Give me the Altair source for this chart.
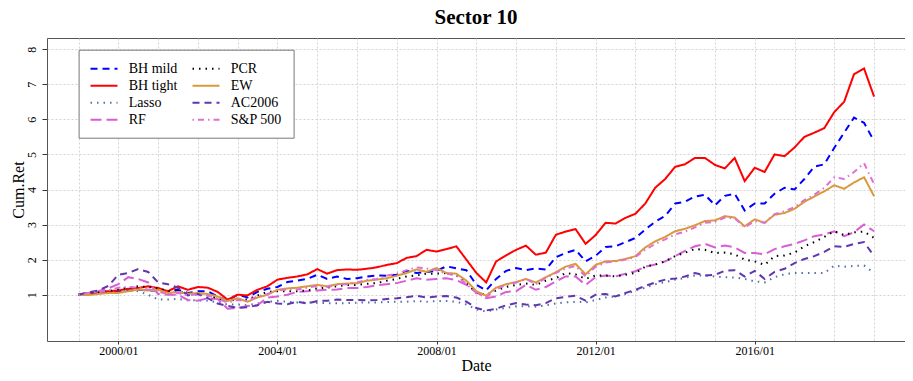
import altair as alt
import pandas as pd

# Quarterly observation dates (1999/01 ... 2019/01)
dates = [d.strftime("%Y-%m-%d") for d in pd.date_range("1999-01-01", "2019-01-01", freq="QS")]

bh_tight = [1.00, 1.05, 1.08, 1.10, 1.12, 1.17, 1.19, 1.24, 1.19, 1.10, 1.24, 1.14, 1.22, 1.20, 1.08, 0.86,
            1.00, 0.98, 1.14, 1.24, 1.43, 1.48, 1.52, 1.58, 1.73, 1.60, 1.70, 1.72, 1.71, 1.74, 1.78, 1.85,
            1.90, 2.05, 2.10, 2.28, 2.23, 2.30, 2.38, 2.00, 1.62, 1.35, 1.95, 2.12, 2.28, 2.40, 2.14, 2.20,
            2.71, 2.80, 2.87, 2.45, 2.70, 3.05, 3.03, 3.19, 3.31, 3.60, 4.05, 4.30, 4.65, 4.72, 4.90, 4.90,
            4.70, 4.60, 4.90, 4.24, 4.62, 4.50, 5.00, 4.95, 5.20, 5.50, 5.62, 5.75, 6.21, 6.50, 7.29, 7.45,
            6.65]
bh_mild = [1.00, 1.04, 1.06, 1.08, 1.10, 1.12, 1.14, 1.12, 1.12, 1.10, 1.14, 1.05, 1.10, 1.10, 0.95, 0.83,
           1.00, 0.92, 1.08, 1.17, 1.22, 1.36, 1.40, 1.45, 1.57, 1.45, 1.52, 1.45, 1.47, 1.52, 1.55, 1.54,
           1.57, 1.68, 1.62, 1.65, 1.68, 1.81, 1.75, 1.70, 1.28, 1.12, 1.45, 1.68, 1.76, 1.70, 1.75, 1.72,
           2.07, 2.19, 2.28, 1.95, 2.11, 2.36, 2.38, 2.50, 2.62, 2.86, 3.08, 3.25, 3.60, 3.65, 3.80, 3.85,
           3.55, 3.82, 3.88, 3.40, 3.60, 3.60, 3.88, 4.05, 4.00, 4.30, 4.65, 4.72, 5.19, 5.62, 6.05, 5.90,
           5.38]
ew = [1.00, 0.99, 1.02, 1.05, 1.05, 1.10, 1.15, 1.12, 1.14, 1.05, 1.08, 1.03, 1.05, 1.02, 0.95, 0.82,
      0.90, 0.80, 0.92, 1.00, 1.14, 1.18, 1.20, 1.24, 1.28, 1.24, 1.30, 1.32, 1.33, 1.40, 1.43, 1.47,
      1.54, 1.62, 1.72, 1.65, 1.76, 1.62, 1.60, 1.40, 1.10, 0.97, 1.20, 1.30, 1.36, 1.45, 1.35, 1.50,
      1.64, 1.80, 1.88, 1.58, 1.85, 1.95, 1.96, 2.02, 2.10, 2.35, 2.52, 2.65, 2.81, 2.88, 2.98, 3.10,
      3.12, 3.24, 3.20, 2.95, 3.15, 3.05, 3.28, 3.33, 3.45, 3.65, 3.80, 3.95, 4.12, 4.02, 4.20, 4.35,
      3.81]
sp500 = [1.00, 1.05, 1.08, 1.12, 1.20, 1.22, 1.20, 1.15, 1.08, 1.02, 1.05, 0.98, 1.02, 0.98, 0.88, 0.78,
         0.85, 0.82, 0.95, 1.02, 1.12, 1.15, 1.15, 1.20, 1.25, 1.22, 1.28, 1.30, 1.35, 1.42, 1.45, 1.55,
         1.60, 1.70, 1.78, 1.75, 1.70, 1.60, 1.55, 1.30, 1.05, 0.92, 1.15, 1.28, 1.35, 1.45, 1.30, 1.48,
         1.62, 1.75, 1.82, 1.52, 1.80, 1.92, 1.95, 2.00, 2.08, 2.28, 2.45, 2.58, 2.72, 2.80, 2.92, 3.05,
         3.08, 3.20, 3.18, 2.92, 3.10, 3.05, 3.30, 3.38, 3.50, 3.70, 3.85, 4.05, 4.35, 4.30, 4.50, 4.75,
         4.15]
pcr = [1.00, 1.03, 1.06, 1.10, 1.15, 1.20, 1.24, 1.22, 1.18, 1.10, 1.08, 1.05, 1.00, 0.98, 0.90, 0.83,
       0.86, 0.86, 0.98, 1.08, 1.10, 1.10, 1.10, 1.12, 1.18, 1.20, 1.24, 1.28, 1.28, 1.31, 1.33, 1.40,
       1.45, 1.52, 1.55, 1.60, 1.60, 1.62, 1.55, 1.35, 1.05, 1.00, 1.12, 1.22, 1.28, 1.32, 1.28, 1.40,
       1.47, 1.62, 1.58, 1.45, 1.55, 1.55, 1.52, 1.57, 1.62, 1.80, 1.86, 1.95, 2.10, 2.20, 2.30, 2.28,
       2.19, 2.20, 2.15, 2.00, 1.95, 1.85, 2.10, 2.12, 2.20, 2.38, 2.50, 2.65, 2.81, 2.70, 2.78, 2.80,
       2.62]
rf = [1.00, 1.04, 1.10, 1.18, 1.30, 1.50, 1.45, 1.35, 1.02, 1.00, 1.00, 0.85, 0.83, 0.90, 0.88, 0.60,
      0.62, 0.68, 0.70, 0.92, 0.95, 1.00, 1.08, 1.10, 1.12, 1.14, 1.15, 1.19, 1.19, 1.22, 1.27, 1.30,
      1.33, 1.40, 1.47, 1.43, 1.45, 1.47, 1.42, 1.28, 1.07, 0.90, 0.95, 1.08, 1.10, 1.28, 1.14, 1.22,
      1.38, 1.52, 1.52, 1.28, 1.50, 1.55, 1.52, 1.60, 1.67, 1.80, 1.86, 1.95, 2.10, 2.25, 2.38, 2.45,
      2.35, 2.40, 2.35, 2.19, 2.19, 2.15, 2.30, 2.38, 2.45, 2.55, 2.67, 2.72, 2.81, 2.67, 2.78, 3.00,
      2.81]
ac2006 = [1.00, 1.07, 1.12, 1.25, 1.57, 1.62, 1.73, 1.65, 1.35, 1.30, 1.20, 0.98, 1.02, 0.90, 0.75, 0.68,
          0.62, 0.64, 0.70, 0.80, 0.75, 0.73, 0.80, 0.75, 0.82, 0.83, 0.86, 0.85, 0.85, 0.84, 0.85, 0.88,
          0.90, 0.93, 0.97, 0.92, 0.95, 0.96, 0.92, 0.80, 0.62, 0.55, 0.60, 0.70, 0.76, 0.72, 0.70, 0.76,
          0.90, 0.94, 0.97, 0.83, 1.00, 1.02, 0.95, 1.05, 1.14, 1.25, 1.35, 1.43, 1.46, 1.52, 1.62, 1.55,
          1.57, 1.68, 1.70, 1.52, 1.68, 1.45, 1.65, 1.74, 1.90, 2.02, 2.10, 2.22, 2.38, 2.36, 2.45, 2.50,
          2.10]
lasso = [1.00, 1.04, 1.06, 1.10, 1.12, 1.15, 1.10, 1.00, 0.86, 0.86, 0.88, 0.84, 0.84, 0.83, 0.78, 0.72,
         0.72, 0.70, 0.75, 0.80, 0.82, 0.80, 0.78, 0.78, 0.77, 0.76, 0.76, 0.76, 0.77, 0.78, 0.78, 0.79,
         0.80, 0.80, 0.82, 0.80, 0.82, 0.82, 0.80, 0.72, 0.58, 0.52, 0.58, 0.62, 0.67, 0.67, 0.66, 0.70,
         0.75, 0.78, 0.80, 0.78, 0.85, 0.92, 0.95, 1.02, 1.12, 1.20, 1.30, 1.36, 1.43, 1.48, 1.55, 1.55,
         1.52, 1.50, 1.49, 1.45, 1.38, 1.35, 1.50, 1.58, 1.62, 1.62, 1.62, 1.62, 1.83, 1.80, 1.82, 1.83,
         1.62]

series = {
    "BH mild": bh_mild, "BH tight": bh_tight, "Lasso": lasso, "RF": rf,
    "PCR": pcr, "EW": ew, "AC2006": ac2006, "S&P 500": sp500,
}
legend_order = ["BH mild", "BH tight", "Lasso", "RF", "PCR", "EW", "AC2006", "S&P 500"]
colors = {"BH mild": "#0000FF", "BH tight": "#FF0000", "Lasso": "#4F72AA", "RF": "#D65FD6",
          "PCR": "#000000", "EW": "#D99A3D", "AC2006": "#6236AF", "S&P 500": "#E070D0"}
dashes = {"BH mild": [7, 5], "BH tight": [1, 0], "Lasso": [1.5, 5], "RF": [11, 5],
          "PCR": [1.5, 5], "EW": [1, 0], "AC2006": [7, 5], "S&P 500": [1.5, 4, 6, 4]}

rows = []
for name, vals in series.items():
    for d, v in zip(dates, vals):
        rows.append({"Date": d, "CumRet": v, "Method": name})
df = pd.DataFrame(rows)

font = "Liberation Serif"
year_vals = [alt.DateTime(year=y, month=1, date=1, utc=True) for y in range(1999, 2020)]

legend = alt.Legend(title=None, orient="none", legendX=31.6, legendY=11.7,
                    columns=2, symbolType="M-2,0H2", symbolSize=182,
                    symbolStrokeWidth=2, symbolOffset=6.4, symbolFillColor="transparent",
                    labelFont=font, labelFontSize=14,
                    labelOffset=16.75, columnPadding=10, rowPadding=2,
                    padding=11, strokeColor="#777777", fillColor="white",
                    labelColor="black", labelLimit=200)

chart = alt.Chart(df).mark_line(strokeWidth=2).encode(
    x=alt.X("Date:T",
            scale=alt.Scale(type="utc",
                            domain=[alt.DateTime(year=1998, month=3, date=17, utc=True),
                                    alt.DateTime(year=2019, month=10, date=12, utc=True)]),
            axis=alt.Axis(values=year_vals, title="Date",
                          labelExpr="utcyear(datum.value) % 4 == 0 ? utcFormat(datum.value, '%Y/%m') : ''",
                          tickOpacity={"condition": {"test": "utcyear(datum.value) % 4 == 0", "value": 1}, "value": 0},
                          tickSize=3, labelPadding=1, labelAngle=0,
                          labelFont=font, labelFontSize=12, titleFont=font,
                          titleX=429, titleY=29, titleBaseline="alphabetic", titleAnchor="middle")),
    y=alt.Y("CumRet:Q",
            scale=alt.Scale(domain=[-0.32, 8.32], nice=False, zero=False),
            axis=alt.Axis(values=[1, 2, 3, 4, 5, 6, 7, 8], title="Cum.Ret",
                          labelAngle=270, labelAlign="center", labelBaseline="bottom",
                          tickSize=5, labelPadding=4,
                          labelFont=font, labelFontSize=12, titleFont=font,
                          titleAngle=270, titleX=-29, titleY=151.5,
                          titleAlign="center", titleBaseline="middle")),
    color=alt.Color("Method:N",
                    scale=alt.Scale(domain=legend_order, range=[colors[k] for k in legend_order]),
                    legend=legend),
    strokeDash=alt.StrokeDash("Method:N",
                              scale=alt.Scale(domain=legend_order, range=[dashes[k] for k in legend_order]),
                              legend=legend),
    order=alt.Order("Date:T"),
).properties(
    width=858, height=303,
    title=alt.TitleParams("Sector 10", font=font, fontSize=21, fontWeight="bold",
                          anchor="middle", offset=10, color="black"),
    autosize=alt.AutoSizeParams(type="none"),
    padding={"left": 39, "top": 30, "right": 0, "bottom": 31},
    background="white",
).configure_view(
    stroke="#555555", strokeWidth=1
).configure_axis(
    labelFont=font, titleFont=font, labelFontSize=12, titleFontSize=16,
    titleFontWeight="normal", labelColor="black", titleColor="black",
    gridColor="#D3D3D3", gridDash=[2, 2], gridWidth=1,
    domain=False, tickColor="#333333"
)

chart.save("out.html", embed_options={"renderer": "svg", "actions": False})
